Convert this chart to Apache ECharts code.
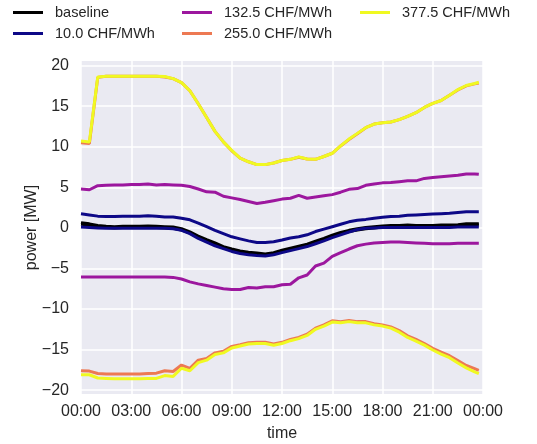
<!DOCTYPE html>
<html>
<head>
<meta charset="utf-8">
<script src="https://cdn.jsdelivr.net/npm/echarts@6/dist/echarts.min.js"></script>
<style>
  html, body { margin: 0; padding: 0; background: #fff; }
  #chart { width: 537px; height: 444px; }
</style>
</head>
<body>
<div id="chart"></div>
<script>
// hours since midnight (last sample at 23:45)
const hours = [0, 0.5, 1, 1.5, 2, 2.5, 3, 3.5, 4, 4.5, 5, 5.5,
  6, 6.5, 7, 7.5, 8, 8.5, 9, 9.5, 10, 10.5, 11, 11.5,
  12, 12.5, 13, 13.5, 14, 14.5, 15, 15.5, 16, 16.5, 17, 17.5,
  18, 18.5, 19, 19.5, 20, 20.5, 21, 21.5, 22, 22.5, 23, 23.5, 23.75]

const yTicks = [-20, -15, -10, -5, 0, 5, 10, 15, 20]

const baseUp = [0.65, 0.5, 0.3, 0.2, 0.15, 0.2, 0.2, 0.2, 0.25, 0.2, 0.15, 0.1,
  -0.1, -0.5, -1.0, -1.45, -1.85, -2.3, -2.6, -2.85, -3.0, -3.1, -3.2, -3.05,
  -2.75, -2.5, -2.25, -2.0, -1.65, -1.3, -0.9, -0.55, -0.3, -0.1, 0.05, 0.15,
  0.25, 0.3, 0.3, 0.35, 0.3, 0.3, 0.3, 0.35, 0.35, 0.4, 0.5, 0.5, 0.5]
const baseLow = [0.45, 0.35, 0.15, 0.05, 0.0, 0.05, 0.05, 0.05, 0.1, 0.05, 0.0, -0.05,
  -0.25, -0.65, -1.15, -1.6, -2.0, -2.45, -2.75, -3.0, -3.15, -3.25, -3.3, -3.15,
  -2.9, -2.65, -2.4, -2.15, -1.8, -1.45, -1.05, -0.7, -0.45, -0.25, -0.1, 0.0,
  0.1, 0.15, 0.15, 0.2, 0.15, 0.15, 0.15, 0.2, 0.2, 0.25, 0.35, 0.35, 0.35]

const p10Up = [1.75, 1.6, 1.45, 1.4, 1.4, 1.45, 1.45, 1.45, 1.5, 1.45, 1.35, 1.35,
  1.2, 1.0, 0.6, 0.15, -0.3, -0.7, -1.1, -1.35, -1.6, -1.8, -1.8, -1.7,
  -1.5, -1.25, -1.1, -0.85, -0.45, -0.15, 0.15, 0.45, 0.75, 0.95, 1.05, 1.2,
  1.3, 1.4, 1.45, 1.55, 1.6, 1.65, 1.7, 1.75, 1.8, 1.9, 2.0, 2.0, 2.0]
const p10Low = [0.1, 0.05, 0.0, -0.05, -0.05, -0.05, -0.05, -0.05, -0.05, -0.05, -0.05, -0.1,
  -0.3, -0.7, -1.3, -1.75, -2.2, -2.55, -2.9, -3.15, -3.3, -3.4, -3.45, -3.3,
  -3.05, -2.8, -2.55, -2.3, -1.95, -1.6, -1.2, -0.85, -0.5, -0.2, -0.05, 0.0,
  0.05, 0.05, 0.05, 0.05, 0.05, 0.05, 0.05, 0.05, 0.05, 0.1, 0.1, 0.1, 0.1]

const p132Up = [4.8, 4.7, 5.2, 5.25, 5.3, 5.3, 5.35, 5.35, 5.4, 5.3, 5.35, 5.3,
  5.25, 5.1, 4.8, 4.45, 4.4, 3.9, 3.7, 3.5, 3.25, 3.0, 3.15, 3.35,
  3.55, 3.65, 4.0, 3.65, 3.8, 3.95, 4.1, 4.4, 4.75, 4.85, 5.25, 5.4,
  5.55, 5.6, 5.7, 5.8, 5.8, 6.1, 6.2, 6.3, 6.4, 6.5, 6.65, 6.65, 6.6]
const p132Low = [-6.05, -6.05, -6.05, -6.05, -6.05, -6.05, -6.05, -6.05, -6.05, -6.05, -6.05, -6.1,
  -6.3, -6.65, -6.9, -7.1, -7.3, -7.5, -7.6, -7.6, -7.35, -7.4, -7.25, -7.25,
  -7.0, -6.95, -6.15, -5.8, -4.7, -4.35, -3.5, -3.05, -2.6, -2.2, -2.0, -1.85,
  -1.8, -1.75, -1.75, -1.8, -1.85, -1.9, -1.95, -1.95, -1.95, -1.9, -1.9, -1.9, -1.9]

const p255Up = [10.5, 10.4, 18.55, 18.7, 18.7, 18.7, 18.7, 18.7, 18.7, 18.7, 18.6, 18.4,
  17.9, 16.9, 15.3, 13.6, 11.9, 10.6, 9.5, 8.6, 8.15, 7.8, 7.8, 8.0,
  8.3, 8.45, 8.7, 8.5, 8.45, 8.8, 9.2, 10.1, 10.9, 11.6, 12.35, 12.8,
  12.95, 13.05, 13.35, 13.75, 14.2, 14.85, 15.35, 15.7, 16.35, 17.0, 17.5, 17.75, 17.85]
const p255Low = [-17.6, -17.65, -17.95, -18.0, -18.0, -18.0, -18.0, -18.0, -17.95, -17.9, -17.6, -17.7,
  -16.9, -17.3, -16.3, -16.1, -15.4, -15.2, -14.6, -14.4, -14.15, -14.1, -14.1, -14.3,
  -14.1, -13.75, -13.5, -13.1, -12.35, -11.95, -11.45, -11.55, -11.4, -11.55, -11.55, -11.8,
  -11.95, -12.2, -12.65, -13.3, -13.75, -14.25, -14.85, -15.3, -15.75, -16.35, -16.95, -17.35, -17.55]

const p377Up = [10.7, 10.6, 18.6, 18.7, 18.7, 18.7, 18.7, 18.7, 18.7, 18.7, 18.65, 18.4,
  17.9, 16.9, 15.3, 13.6, 11.9, 10.6, 9.55, 8.6, 8.15, 7.8, 7.8, 8.0,
  8.3, 8.45, 8.75, 8.5, 8.45, 8.8, 9.2, 10.1, 10.95, 11.65, 12.35, 12.8,
  12.95, 13.05, 13.35, 13.75, 14.2, 14.85, 15.35, 15.7, 16.35, 17.05, 17.55, 17.8, 17.95]
const p377Low = [-18.1, -18.1, -18.5, -18.55, -18.6, -18.6, -18.6, -18.6, -18.55, -18.55, -18.2, -18.3,
  -17.3, -17.6, -16.6, -16.3, -15.6, -15.4, -14.8, -14.55, -14.3, -14.25, -14.25, -14.45,
  -14.25, -13.9, -13.65, -13.25, -12.5, -12.1, -11.6, -11.7, -11.55, -11.7, -11.7, -11.95,
  -12.1, -12.35, -12.85, -13.5, -13.95, -14.45, -15.05, -15.55, -16.0, -16.65, -17.25, -17.75, -17.95]

const groups = [
  { name: 'baseline', color: '#000000', lines: [baseUp, baseLow] },
  { name: '10.0 CHF/MWh', color: '#0d0887', lines: [p10Up, p10Low] },
  { name: '132.5 CHF/MWh', color: '#9c179e', lines: [p132Up, p132Low] },
  { name: '255.0 CHF/MWh', color: '#ed7953', lines: [p255Up, p255Low] },
  { name: '377.5 CHF/MWh', color: '#f0f921', lines: [p377Up, p377Low] }
]

// legend spots, column-major like matplotlib ncol=3
const legendPos = [[13, 5], [13, 26], [182, 5], [182, 26], [360, 5]]

const FONT = 'Liberation Sans'
const TXT = '#262626'

const series = []
groups.forEach(g => {
  g.lines.forEach(vals => {
    series.push({
      name: g.name,
      type: 'line',
      data: hours.map((h, i) => [h, vals[i]]),
      showSymbol: false,
      color: g.color,
      lineStyle: { width: 3, color: g.color },
      emphasis: { disabled: true },
      animation: false
    })
  })
})

const pad = n => String(n).padStart(2, '0')

const chart = echarts.init(document.getElementById('chart'), null, { renderer: 'canvas' })
chart.setOption({
  backgroundColor: '#ffffff',
  textStyle: { fontFamily: FONT, color: TXT },
  grid: {
    left: 81, top: 61, width: 402, height: 333,
    outerBoundsMode: 'none',
    backgroundColor: '#eaeaf2', show: true, borderWidth: 0
  },
  legend: groups.map((g, i) => ({
    data: [g.name],
    left: legendPos[i][0],
    top: legendPos[i][1],
    padding: 0,
    icon: 'rect',
    itemWidth: 30,
    itemHeight: 3,
    selectedMode: false,
    textStyle: { fontFamily: FONT, fontSize: 14.5, color: TXT, padding: [0, 0, 0, 7] }
  })),
  xAxis: {
    type: 'value',
    min: 0,
    max: 24,
    interval: 3,
    name: 'time',
    nameLocation: 'middle',
    nameGap: 32,
    nameMoveOverlap: false,
    nameTextStyle: { fontFamily: FONT, fontSize: 16, color: TXT },
    axisLine: { show: false },
    axisTick: { show: false },
    axisLabel: {
      fontFamily: FONT, fontSize: 16, color: TXT, margin: 10,
      formatter: v => pad(v % 24) + ':00'
    },
    splitLine: { show: true, lineStyle: { color: '#ffffff', width: 1.5 } }
  },
  yAxis: {
    type: 'value',
    min: -20.47,
    max: 20.57,
    name: 'power [MW]',
    nameLocation: 'middle',
    nameGap: 41,
    nameMoveOverlap: false,
    nameTextStyle: { fontFamily: FONT, fontSize: 16, color: TXT },
    axisLine: { show: false },
    axisTick: { show: false, customValues: yTicks },
    axisLabel: {
      fontFamily: FONT, fontSize: 16, color: TXT, margin: 12,
      customValues: yTicks,
      formatter: v => (v < 0 ? '\u2212' + Math.abs(v) : String(v))
    },
    splitLine: { show: true, lineStyle: { color: '#ffffff', width: 1.5 } }
  },
  series
})
</script>
</body>
</html>
